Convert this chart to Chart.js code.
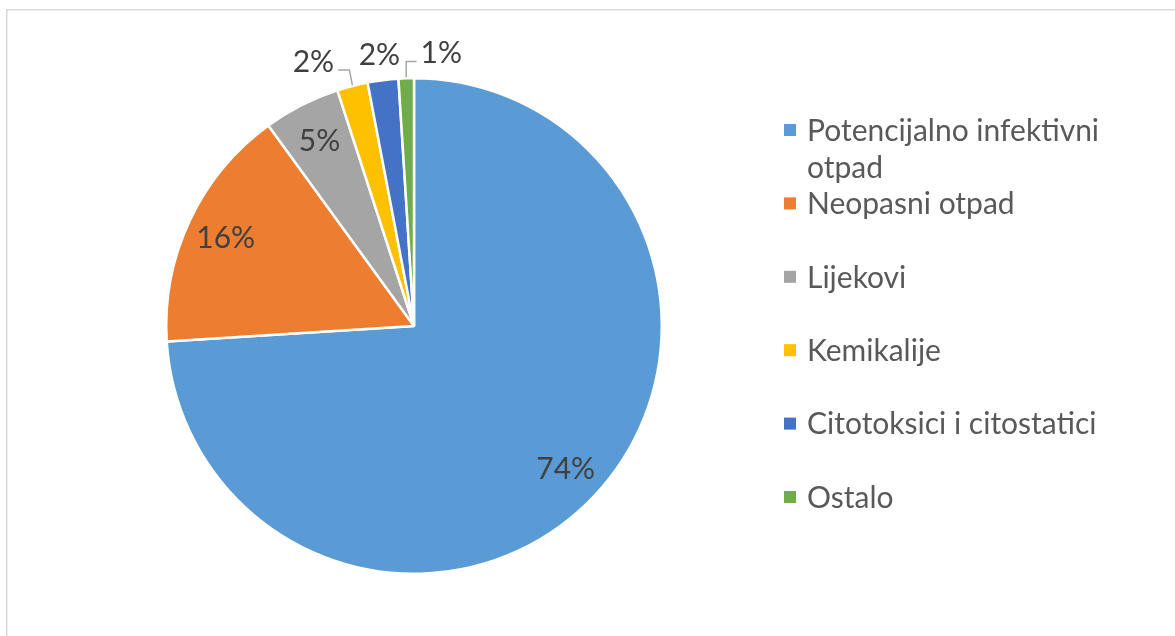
<!DOCTYPE html>
<html>
<head>
<meta charset="utf-8">
<script src="https://cdn.jsdelivr.net/npm/chart.js@4.4.1/dist/chart.umd.min.js"></script>
<style>
  html, body { margin: 0; padding: 0; background: #fff; overflow: hidden; }
</style>
</head>
<body>
<canvas id="wasteChart" width="1175" height="636"></canvas>
<script>
const categories = ['Potencijalno infektivni otpad', 'Neopasni otpad', 'Lijekovi', 'Kemikalije', 'Citotoksici i citostatici', 'Ostalo'];
const shares = [74, 16, 5, 2, 2, 1];
const sliceColors = ['#5B9BD5', '#ED7D31', '#A5A5A5', '#FFC000', '#4472C4', '#70AD47'];

const FONT = 'Lato, "Noto Sans", sans-serif';
const FONT_SIZE = 30;
const CAP = FONT_SIZE * 0.36; // baseline offset so caps sit centred

// light frame around the chart, like the Office chart area border
const frame = {
  id: 'frame',
  beforeDraw(chart) {
    const ctx = chart.ctx;
    ctx.save();
    ctx.fillStyle = '#fff';
    ctx.fillRect(0, 0, chart.width, chart.height);
    ctx.strokeStyle = '#d9d9d9';
    ctx.lineWidth = 1.5;
    ctx.strokeRect(6.75, 9.75, chart.width + 20, chart.height + 20);
    ctx.restore();
  }
};

const pieLabels = {
  id: 'pieLabels',
  afterDatasetsDraw(chart, args, opts) {
    const ctx = chart.ctx;
    const values = chart.data.datasets[0].data;
    ctx.save();
    ctx.font = `${FONT_SIZE}px ${FONT}`;
    ctx.textAlign = 'center';
    ctx.textBaseline = 'alphabetic';
    chart.getDatasetMeta(0).data.forEach((arc, i) => {
      const { x, y, startAngle, endAngle, outerRadius } =
        arc.getProps(['x', 'y', 'startAngle', 'endAngle', 'outerRadius'], true);
      const mid = (startAngle + endAngle) / 2;
      const cos = Math.cos(mid), sin = Math.sin(mid);
      const text = values[i] + '%';
      ctx.fillStyle = '#404040';
      if (values[i] >= opts.insideMin) {
        const d = outerRadius * opts.inside;
        ctx.fillText(text, x + cos * d, y + sin * d + CAP);
        return;
      }
      const d = outerRadius + opts.outside;
      const shift = opts.shift[i] || 0;
      const tx = x + cos * d + shift;
      const ty = y + sin * d + 2;
      ctx.fillText(text, tx, ty + CAP);
      if (shift) {
        const ax = x + cos * outerRadius, ay = y + sin * outerRadius;
        const w = ctx.measureText(text).width;
        const ly = ty + 9;
        const ex = shift < 0 ? tx + w / 2 + 4 : tx - w / 2 - 4;
        ctx.strokeStyle = '#a6a6a6';
        ctx.lineWidth = 1.5;
        ctx.beginPath();
        ctx.moveTo(ax, ay - 1);
        ctx.lineTo(ax + (shift < 0 ? -3 : 0), ly);
        ctx.lineTo(ex, ly);
        ctx.stroke();
      }
    });
    ctx.restore();
  }
};

function wrapText(ctx, text, maxWidth) {
  const words = text.split(' ');
  const lines = [];
  let line = '';
  words.forEach(w => {
    const test = line ? line + ' ' + w : w;
    if (line && ctx.measureText(test).width > maxWidth) {
      lines.push(line);
      line = w;
    } else {
      line = test;
    }
  });
  lines.push(line);
  return lines;
}

const sideLegend = {
  id: 'sideLegend',
  afterDraw(chart, args, opts) {
    const ctx = chart.ctx;
    const colors = chart.data.datasets[0].backgroundColor;
    ctx.save();
    ctx.font = `${FONT_SIZE}px ${FONT}`;
    ctx.textAlign = 'left';
    ctx.textBaseline = 'alphabetic';
    chart.data.labels.forEach((name, i) => {
      const cy = opts.top + i * opts.step;
      ctx.fillStyle = colors[i];
      ctx.fillRect(opts.x, cy - opts.box / 2, opts.box, opts.box);
      ctx.fillStyle = '#595959';
      wrapText(ctx, name, opts.maxWidth).forEach((ln, k) => {
        ctx.fillText(ln, opts.x + opts.textGap, cy + CAP + k * opts.lineHeight);
      });
    });
    ctx.restore();
  }
};

new Chart(document.getElementById('wasteChart').getContext('2d'), {
  type: 'pie',
  data: {
    labels: categories,
    datasets: [{
      data: shares,
      backgroundColor: sliceColors,
      borderColor: '#ffffff',
      borderWidth: 2.5
    }]
  },
  options: {
    responsive: false,
    animation: false,
    layout: { padding: { left: 165, top: 77, right: 512, bottom: 61 } },
    plugins: {
      legend: { display: false },
      tooltip: { enabled: false },
      pieLabels: { insideMin: 5, inside: 0.84, outside: 28, shift: { 3: -32, 5: 36 } },
      sideLegend: { x: 784, box: 12, textGap: 23, top: 130, step: 73.4, lineHeight: 37, maxWidth: 305 }
    }
  },
  plugins: [frame, pieLabels, sideLegend]
});
</script>
</body>
</html>
